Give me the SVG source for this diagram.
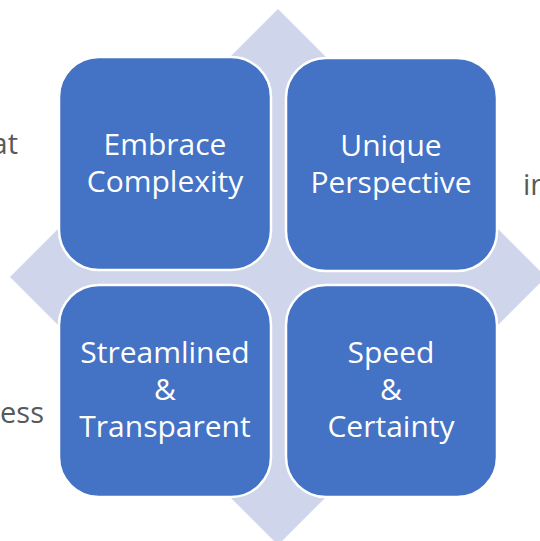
<svg xmlns="http://www.w3.org/2000/svg" width="540" height="541" viewBox="0 0 540 541">
<style>
.sq{fill:#4472C4;stroke:#FFFFFF;stroke-width:2.5}
.lbl{font-family:"Open Sans","Liberation Sans",sans-serif;font-size:30px;fill:#FFFFFF;text-anchor:middle}
.side{font-family:"Open Sans","Liberation Sans",sans-serif;font-size:29px;fill:#595959}
</style>
<rect width="540" height="541" fill="#FFFFFF"/>
<g id="diamond"><polygon points="278,9 546,277 278,545 10,277" fill="#CFD5EA"/></g>
<g id="side-text">
<text class="side" x="18" y="154" text-anchor="end">at</text>
<text class="side" x="523" y="195">in</text>
<text class="side" x="44" y="423" text-anchor="end">cess</text>
</g>
<g id="connectors"></g>
<g id="n1"><rect class="sq" x="59" y="57" width="212" height="213" rx="40"/>
<text class="lbl" x="165" y="155">Embrace</text><text class="lbl" x="165" y="192">Complexity</text></g>
<g id="n2"><rect class="sq" x="286" y="58" width="211" height="213" rx="40"/>
<text class="lbl" x="391" y="156">Unique</text><text class="lbl" x="391" y="193">Perspective</text></g>
<g id="n3"><rect class="sq" x="59" y="285" width="212" height="212" rx="40"/>
<text class="lbl" x="165" y="363">Streamlined</text><text class="lbl" x="165" y="400">&amp;</text><text class="lbl" x="165" y="437">Transparent</text></g>
<g id="n4"><rect class="sq" x="286" y="285" width="211" height="212" rx="40"/>
<text class="lbl" x="391" y="363">Speed</text><text class="lbl" x="391" y="400">&amp;</text><text class="lbl" x="391" y="437">Certainty</text></g>
</svg>
